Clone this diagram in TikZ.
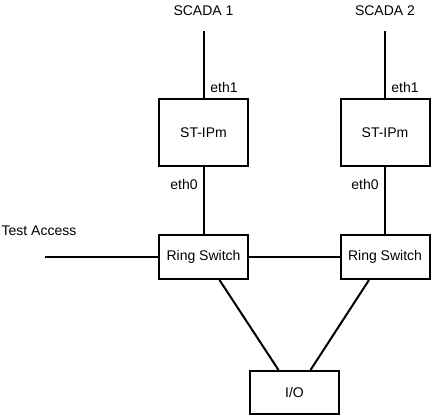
\documentclass[tikz,border=0pt]{standalone}
\usepackage{fontspec}
\setmainfont{Liberation Sans}
\begin{document}
\begin{tikzpicture}[x=1pt,y=-1pt,line width=2pt,font=\fontsize{14}{16}\selectfont,
    box/.style={draw,line width=2pt,inner sep=0pt,minimum width=89pt},
    lbl/.style={inner sep=0pt}]
                \useasboundingbox (0,0) rectangle (433,418);
                \node[lbl] (scada1) at (203.5,11) {SCADA 1}; \node[lbl] (scada2) at (385,11) {SCADA 2};
                \coordinate (top1) at (203.5,31); \coordinate (top2) at (385,31);
                \node[box,minimum height=67pt] (ipm1) at (203.5,132.5) {ST-IPm}; \node[box,minimum height=67pt] (ipm2) at (385,132.5) {ST-IPm};
                \node[lbl] (eth11) at (224,87) {eth1}; \node[lbl] (eth12) at (405,87) {eth1};
                \node[lbl] (eth01) at (184,184) {eth0}; \node[lbl] (eth02) at (365,184) {eth0};
                \node[lbl] (test) at (39,231) {Test Access}; \coordinate (testend) at (45,257);
                \node[box,minimum height=44pt] (rs1) at (203.5,257) {Ring Switch}; \node[box,minimum height=44pt] (rs2) at (385,257) {Ring Switch};
                \node[box,minimum height=43pt] (io) at (294.5,392.5) {I/O};

                \draw (top1) to (ipm1); \draw (top2) to (ipm2);
                \draw (ipm1) to (rs1); \draw (ipm2) to (rs2);
                \draw (testend) to (rs1); \draw (rs1) to (rs2);
                \draw ([xshift=16pt]rs1.south) to ([xshift=-16pt]io.north); \draw ([xshift=-16pt]rs2.south) to ([xshift=16pt]io.north);
            \end{tikzpicture}
\end{document}
